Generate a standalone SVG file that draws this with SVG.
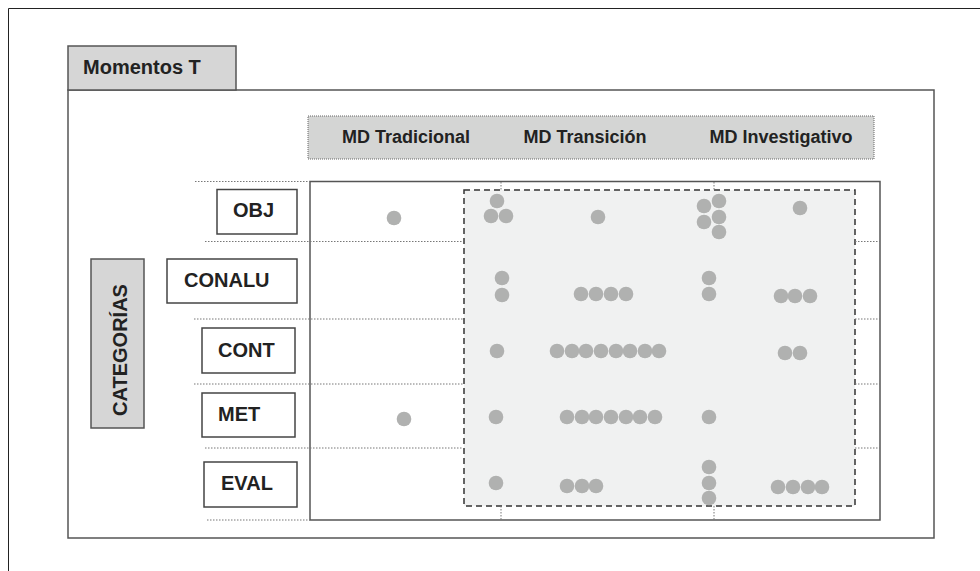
<svg xmlns="http://www.w3.org/2000/svg" width="980" height="571" viewBox="0 0 980 571">
<style>
text{font-family:"Liberation Sans",Arial,sans-serif;font-weight:bold;fill:#222}
.lbl{fill:#fff;stroke:#444;stroke-width:1.5}
.dot{fill:#b0b1b0}
.dotted{stroke:#777;stroke-width:1;stroke-dasharray:1.5 1.5;fill:none}
</style>
<rect width="980" height="571" fill="#fff"/>
<path d="M8.5 571V8.5H980" fill="none" stroke="#222" stroke-width="1"/>
<g id="main">
<rect x="68" y="90" width="866" height="448" fill="#fff" stroke="#555" stroke-width="1.5"/>
</g>
<g id="tab">
<rect x="68" y="46" width="168" height="44" fill="#d6d6d6" stroke="#555" stroke-width="1.5"/>
<text x="83" y="74" font-size="20">Momentos T</text>
</g>
<g id="header">
<rect x="308" y="116" width="566" height="43" fill="#d4d5d4" stroke="#666" stroke-width="1" stroke-dasharray="1 1"/>
<text x="406" y="143" font-size="18" text-anchor="middle">MD Tradicional</text>
<text x="585" y="143" font-size="18" text-anchor="middle">MD Transición</text>
<text x="781" y="143" font-size="18" text-anchor="middle">MD Investigativo</text>
</g>
<g id="categorias">
<rect x="91" y="259" width="53" height="169" fill="#d6d6d6" stroke="#555" stroke-width="1.5"/>
<text x="127" y="350" font-size="20" text-anchor="middle" transform="rotate(-90 127 350)">CATEGORÍAS</text>
</g>
<g id="grid">
<rect x="310" y="181.5" width="570" height="338.5" fill="#fff" stroke="#555" stroke-width="1.5"/>
<rect x="464" y="190" width="391" height="316" fill="#f0f1f1" stroke="#333" stroke-width="1.5" stroke-dasharray="6 4"/>
</g>
<g id="connectors">
<path class="dotted" d="M195 181.5H310M205 241.5H463M855 241.5H880M194 319H463M855 319H880M194 384H463M855 384H880M205 448H463M855 448H880M207 520H310"/>
<path class="dotted" d="M501 182V190M714 182V190M501 506V520M714 506V520"/>
</g>
<g id="OBJ"><rect class="lbl" x="217" y="189.5" width="80" height="44.5"/><text x="233" y="217" font-size="20">OBJ</text></g>
<g id="CONALU"><rect class="lbl" x="167" y="259" width="130" height="44"/><text x="184" y="287" font-size="20">CONALU</text></g>
<g id="CONT"><rect class="lbl" x="202" y="328" width="93" height="45"/><text x="218" y="357" font-size="20">CONT</text></g>
<g id="MET"><rect class="lbl" x="202" y="393" width="93" height="44"/><text x="218" y="421" font-size="20">MET</text></g>
<g id="EVAL"><rect class="lbl" x="204" y="462" width="93" height="45"/><text x="221" y="490" font-size="20">EVAL</text></g>
<g id="dots">
<circle class="dot" cx="394" cy="218" r="7.3"/>
<circle class="dot" cx="497" cy="201" r="7.3"/>
<circle class="dot" cx="491" cy="216" r="7.3"/>
<circle class="dot" cx="506" cy="216" r="7.3"/>
<circle class="dot" cx="598" cy="217" r="7.3"/>
<circle class="dot" cx="704" cy="206" r="7.3"/>
<circle class="dot" cx="719" cy="201" r="7.3"/>
<circle class="dot" cx="704" cy="222" r="7.3"/>
<circle class="dot" cx="719" cy="217" r="7.3"/>
<circle class="dot" cx="719" cy="232" r="7.3"/>
<circle class="dot" cx="800" cy="208" r="7.3"/>

<circle class="dot" cx="502" cy="278" r="7.3"/>
<circle class="dot" cx="502" cy="295" r="7.3"/>
<circle class="dot" cx="581" cy="294" r="7.3"/>
<circle class="dot" cx="596" cy="294" r="7.3"/>
<circle class="dot" cx="611" cy="294" r="7.3"/>
<circle class="dot" cx="626" cy="294" r="7.3"/>
<circle class="dot" cx="709" cy="278" r="7.3"/>
<circle class="dot" cx="709" cy="294" r="7.3"/>
<circle class="dot" cx="781" cy="296" r="7.3"/>
<circle class="dot" cx="795" cy="296" r="7.3"/>
<circle class="dot" cx="810" cy="296" r="7.3"/>

<circle class="dot" cx="497" cy="351" r="7.3"/>
<circle class="dot" cx="557" cy="351" r="7.3"/>
<circle class="dot" cx="572" cy="351" r="7.3"/>
<circle class="dot" cx="586" cy="351" r="7.3"/>
<circle class="dot" cx="601" cy="351" r="7.3"/>
<circle class="dot" cx="616" cy="351" r="7.3"/>
<circle class="dot" cx="630" cy="351" r="7.3"/>
<circle class="dot" cx="645" cy="351" r="7.3"/>
<circle class="dot" cx="659" cy="351" r="7.3"/>
<circle class="dot" cx="785" cy="353" r="7.3"/>
<circle class="dot" cx="800" cy="353" r="7.3"/>

<circle class="dot" cx="404" cy="419" r="7.3"/>
<circle class="dot" cx="496" cy="417" r="7.3"/>
<circle class="dot" cx="567" cy="417" r="7.3"/>
<circle class="dot" cx="582" cy="417" r="7.3"/>
<circle class="dot" cx="596" cy="417" r="7.3"/>
<circle class="dot" cx="611" cy="417" r="7.3"/>
<circle class="dot" cx="626" cy="417" r="7.3"/>
<circle class="dot" cx="640" cy="417" r="7.3"/>
<circle class="dot" cx="655" cy="417" r="7.3"/>
<circle class="dot" cx="709" cy="417" r="7.3"/>

<circle class="dot" cx="496" cy="483" r="7.3"/>
<circle class="dot" cx="567" cy="486" r="7.3"/>
<circle class="dot" cx="582" cy="486" r="7.3"/>
<circle class="dot" cx="596" cy="486" r="7.3"/>
<circle class="dot" cx="709" cy="467" r="7.3"/>
<circle class="dot" cx="709" cy="483" r="7.3"/>
<circle class="dot" cx="709" cy="498" r="7.3"/>
<circle class="dot" cx="778" cy="487" r="7.3"/>
<circle class="dot" cx="793" cy="487" r="7.3"/>
<circle class="dot" cx="808" cy="487" r="7.3"/>
<circle class="dot" cx="822" cy="487" r="7.3"/>
</g>
</svg>
